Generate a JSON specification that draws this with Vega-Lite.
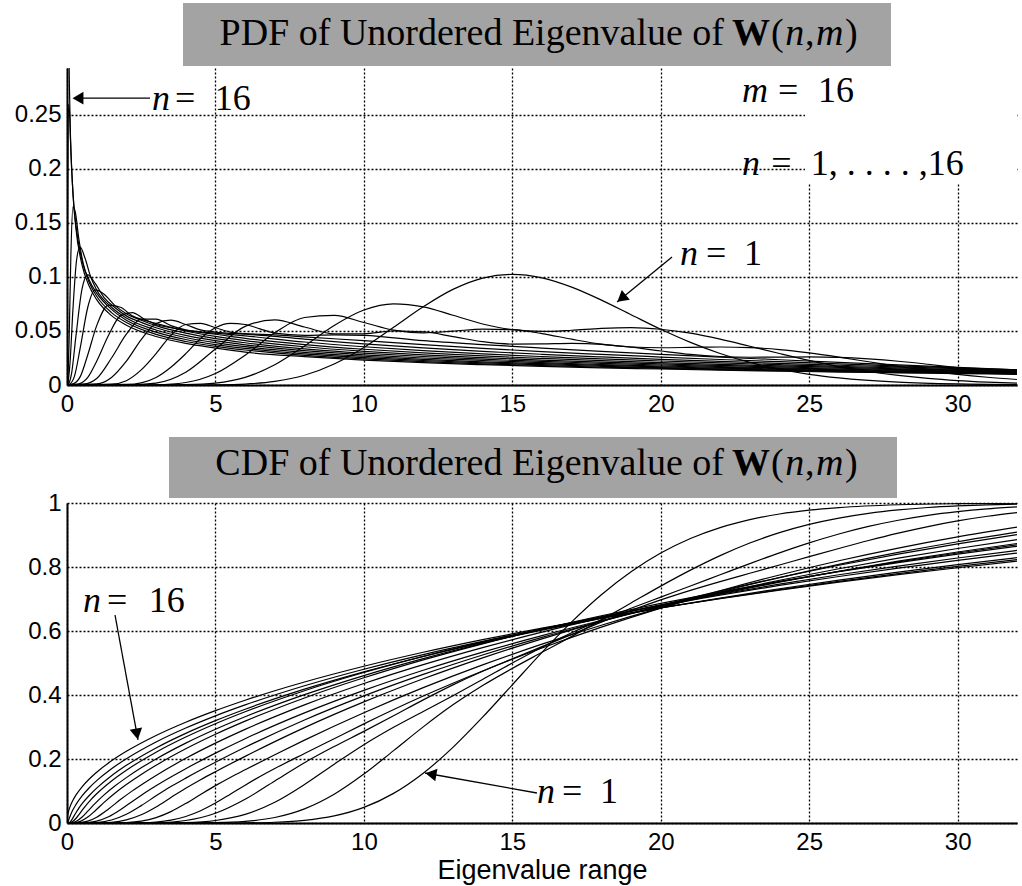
{
  "$schema": "https://vega.github.io/schema/vega-lite/v6.json",
  "background": "white",
  "autosize": {"type": "pad"},
  "padding": {"left": 14, "top": 3, "right": 4, "bottom": 8},
  "bounds": "flush",
  "spacing": 118,
  "config": {
    "view": {"stroke": null},
    "axis": {
      "domainColor": "black", "domainWidth": 2,
      "grid": true, "gridColor": "black", "gridDash": [2, 2], "gridWidth": 1.3, "gridOpacity": 1,
      "ticks": false, "labelFlush": false, "labelOverlap": false,
      "labelFont": "Liberation Sans", "labelFontSize": 24, "labelColor": "black",
      "titleFont": "Liberation Sans", "titleFontSize": 27, "titleFontWeight": "normal", "titleColor": "black"
    }
  },
  "datasets": {
    "curves": [
      {"n":1,"x":0,"p":0,"c":0},{"n":1,"x":4,"p":0.00002,"c":0.00001},{"n":1,"x":5,"p":0.0002,"c":0.00004},{"n":1,"x":6,"p":0.0009,"c":0.0005},{"n":1,"x":7,"p":0.0033,"c":0.0024},{"n":1,"x":8,"p":0.009,"c":0.0082},{"n":1,"x":9,"p":0.0194,"c":0.022},{"n":1,"x":10,"p":0.0347,"c":0.0487},{"n":1,"x":11,"p":0.0534,"c":0.0926},{"n":1,"x":12,"p":0.0724,"c":0.1556},{"n":1,"x":13,"p":0.0885,"c":0.2364},{"n":1,"x":14,"p":0.099,"c":0.3306},{"n":1,"x":15,"p":0.1024,"c":0.4319},{"n":1,"x":16,"p":0.0992,"c":0.5333},{"n":1,"x":17,"p":0.0906,"c":0.6285},{"n":1,"x":18,"p":0.0786,"c":0.7133},{"n":1,"x":19,"p":0.0651,"c":0.7852},{"n":1,"x":20,"p":0.0516,"c":0.8435},{"n":1,"x":21,"p":0.0395,"c":0.889},{"n":1,"x":22,"p":0.0292,"c":0.9232},{"n":1,"x":23,"p":0.0209,"c":0.9481},{"n":1,"x":24,"p":0.0146,"c":0.9657},{"n":1,"x":25,"p":0.0099,"c":0.9778},{"n":1,"x":26,"p":0.0066,"c":0.9858},{"n":1,"x":28,"p":0.0027,"c":0.9946},{"n":1,"x":30,"p":0.001,"c":0.998},{"n":1,"x":32,"p":0.0004,"c":0.9993},
      {"n":2,"x":0,"p":0,"c":0},{"n":2,"x":3,"p":0.00001,"c":0},{"n":2,"x":4,"p":0.0003,"c":0.0001},{"n":2,"x":5,"p":0.0018,"c":0.0009},{"n":2,"x":6,"p":0.0071,"c":0.005},{"n":2,"x":7,"p":0.0187,"c":0.0173},{"n":2,"x":8,"p":0.0361,"c":0.0443},{"n":2,"x":9,"p":0.0551,"c":0.0899},{"n":2,"x":10,"p":0.0694,"c":0.1528},{"n":2,"x":11,"p":0.0752,"c":0.2261},{"n":2,"x":12,"p":0.0724,"c":0.3004},{"n":2,"x":13,"p":0.0646,"c":0.3692},{"n":2,"x":14,"p":0.0565,"c":0.4296},{"n":2,"x":15,"p":0.0512,"c":0.4831},{"n":2,"x":16,"p":0.0496,"c":0.5333},{"n":2,"x":17,"p":0.0507,"c":0.5832},{"n":2,"x":18,"p":0.0524,"c":0.6347},{"n":2,"x":19,"p":0.0531,"c":0.6875},{"n":2,"x":20,"p":0.0516,"c":0.7403},{"n":2,"x":21,"p":0.048,"c":0.7902},{"n":2,"x":22,"p":0.0425,"c":0.8356},{"n":2,"x":23,"p":0.0359,"c":0.8749},{"n":2,"x":24,"p":0.0292,"c":0.9074},{"n":2,"x":25,"p":0.0228,"c":0.9333},{"n":2,"x":26,"p":0.0171,"c":0.953},{"n":2,"x":27,"p":0.0125,"c":0.9678},{"n":2,"x":28,"p":0.0089,"c":0.9784},{"n":2,"x":29,"p":0.0061,"c":0.9859},{"n":2,"x":30,"p":0.0041,"c":0.9908},{"n":2,"x":31,"p":0.0027,"c":0.9942},{"n":2,"x":32,"p":0.0017,"c":0.9963},
      {"n":3,"x":0,"p":0,"c":0},{"n":3,"x":2,"p":0,"c":0},{"n":3,"x":3,"p":0.0002,"c":0.0001},{"n":3,"x":4,"p":0.0023,"c":0.0013},{"n":3,"x":5,"p":0.0106,"c":0.0078},{"n":3,"x":6,"p":0.0276,"c":0.0269},{"n":3,"x":7,"p":0.0483,"c":0.0648},{"n":3,"x":8,"p":0.0625,"c":0.1203},{"n":3,"x":9,"p":0.0644,"c":0.1837},{"n":3,"x":10,"p":0.0579,"c":0.2448},{"n":3,"x":11,"p":0.0508,"c":0.2992},{"n":3,"x":12,"p":0.0483,"c":0.3487},{"n":3,"x":13,"p":0.0498,"c":0.3978},{"n":3,"x":14,"p":0.0518,"c":0.4486},{"n":3,"x":15,"p":0.0512,"c":0.5001},{"n":3,"x":16,"p":0.0476,"c":0.5495},{"n":3,"x":17,"p":0.0424,"c":0.5945},{"n":3,"x":18,"p":0.0378,"c":0.6346},{"n":3,"x":19,"p":0.0352,"c":0.6711},{"n":3,"x":20,"p":0.0345,"c":0.706},{"n":3,"x":21,"p":0.0348,"c":0.7406},{"n":3,"x":22,"p":0.0352,"c":0.7756},{"n":3,"x":23,"p":0.0346,"c":0.8105},{"n":3,"x":24,"p":0.0328,"c":0.8442},{"n":3,"x":25,"p":0.0297,"c":0.8754},{"n":3,"x":26,"p":0.0258,"c":0.9032},{"n":3,"x":27,"p":0.0215,"c":0.9268},{"n":3,"x":28,"p":0.0172,"c":0.9462},{"n":3,"x":29,"p":0.0133,"c":0.9615},{"n":3,"x":30,"p":0.0099,"c":0.973},{"n":3,"x":31,"p":0.0072,"c":0.9816},{"n":3,"x":32,"p":0.0051,"c":0.9878},
      {"n":4,"x":0,"p":0,"c":0},{"n":4,"x":2,"p":0.0001,"c":0},{"n":4,"x":3,"p":0.0018,"c":0.001},{"n":4,"x":4,"p":0.0118,"c":0.0078},{"n":4,"x":5,"p":0.0333,"c":0.0303},{"n":4,"x":6,"p":0.0543,"c":0.0741},{"n":4,"x":7,"p":0.0603,"c":0.1314},{"n":4,"x":8,"p":0.0537,"c":0.1885},{"n":4,"x":9,"p":0.0473,"c":0.239},{"n":4,"x":10,"p":0.0474,"c":0.2863},{"n":4,"x":11,"p":0.05,"c":0.335},{"n":4,"x":12,"p":0.0493,"c":0.3847},{"n":4,"x":13,"p":0.0448,"c":0.4317},{"n":4,"x":14,"p":0.0401,"c":0.4742},{"n":4,"x":15,"p":0.0379,"c":0.5131},{"n":4,"x":16,"p":0.0381,"c":0.5512},{"n":4,"x":17,"p":0.0386,"c":0.5895},{"n":4,"x":18,"p":0.0377,"c":0.6277},{"n":4,"x":19,"p":0.035,"c":0.664},{"n":4,"x":20,"p":0.0315,"c":0.6972},{"n":4,"x":21,"p":0.0283,"c":0.7271},{"n":4,"x":22,"p":0.0264,"c":0.7545},{"n":4,"x":23,"p":0.0257,"c":0.7805},{"n":4,"x":24,"p":0.0258,"c":0.8063},{"n":4,"x":25,"p":0.026,"c":0.8322},{"n":4,"x":26,"p":0.0255,"c":0.8579},{"n":4,"x":27,"p":0.0241,"c":0.8828},{"n":4,"x":28,"p":0.022,"c":0.9058},{"n":4,"x":29,"p":0.0192,"c":0.9264},{"n":4,"x":30,"p":0.0161,"c":0.9441},{"n":4,"x":31,"p":0.013,"c":0.9586},{"n":4,"x":32,"p":0.0101,"c":0.9702},
      {"n":5,"x":0,"p":0,"c":0},{"n":5,"x":2,"p":0.0005,"c":0.0002},{"n":5,"x":2.5,"p":0.002,"c":0.0008},{"n":5,"x":3,"p":0.007,"c":0.0031},{"n":5,"x":3.5,"p":0.0165,"c":0.009},{"n":5,"x":4,"p":0.029,"c":0.0204},{"n":5,"x":4.5,"p":0.043,"c":0.0384},{"n":5,"x":5,"p":0.053,"c":0.0624},{"n":5,"x":5.5,"p":0.057,"c":0.0899},{"n":5,"x":6,"p":0.056,"c":0.1182},{"n":5,"x":6.5,"p":0.052,"c":0.1452},{"n":5,"x":7,"p":0.048,"c":0.1702},{"n":5,"x":8,"p":0.046,"c":0.2172},{"n":5,"x":9,"p":0.0465,"c":0.2635},{"n":5,"x":10,"p":0.046,"c":0.3097},{"n":5,"x":12,"p":0.041,"c":0.3967},{"n":5,"x":14,"p":0.0374,"c":0.4751},{"n":5,"x":16,"p":0.0342,"c":0.5467},{"n":5,"x":18,"p":0.0312,"c":0.6121},{"n":5,"x":20,"p":0.0284,"c":0.6717},{"n":5,"x":22,"p":0.0258,"c":0.7259},{"n":5,"x":24,"p":0.0234,"c":0.7751},{"n":5,"x":26,"p":0.021,"c":0.8195},{"n":5,"x":28,"p":0.0187,"c":0.8592},{"n":5,"x":30,"p":0.0164,"c":0.8943},{"n":5,"x":32,"p":0.014,"c":0.9247},
      {"n":6,"x":0,"p":0,"c":0},{"n":6,"x":1.5,"p":0.0008,"c":0.0003},{"n":6,"x":2,"p":0.004,"c":0.0015},{"n":6,"x":2.5,"p":0.014,"c":0.006},{"n":6,"x":3,"p":0.029,"c":0.0168},{"n":6,"x":3.5,"p":0.046,"c":0.0355},{"n":6,"x":4,"p":0.056,"c":0.061},{"n":6,"x":4.5,"p":0.057,"c":0.0893},{"n":6,"x":5,"p":0.053,"c":0.1168},{"n":6,"x":5.5,"p":0.049,"c":0.1423},{"n":6,"x":6,"p":0.0475,"c":0.1664},{"n":6,"x":7,"p":0.0465,"c":0.2134},{"n":6,"x":8,"p":0.0445,"c":0.2589},{"n":6,"x":10,"p":0.0411,"c":0.3445},{"n":6,"x":12,"p":0.0373,"c":0.4229},{"n":6,"x":14,"p":0.0339,"c":0.4941},{"n":6,"x":16,"p":0.0309,"c":0.5589},{"n":6,"x":18,"p":0.0283,"c":0.6181},{"n":6,"x":20,"p":0.0259,"c":0.6723},{"n":6,"x":22,"p":0.0236,"c":0.7218},{"n":6,"x":24,"p":0.0216,"c":0.767},{"n":6,"x":26,"p":0.0196,"c":0.8082},{"n":6,"x":28,"p":0.0177,"c":0.8455},{"n":6,"x":30,"p":0.0158,"c":0.879},{"n":6,"x":32,"p":0.014,"c":0.9088},
      {"n":7,"x":0,"p":0,"c":0},{"n":7,"x":1,"p":0.001,"c":0.0003},{"n":7,"x":1.5,"p":0.007,"c":0.0023},{"n":7,"x":2,"p":0.022,"c":0.0096},{"n":7,"x":2.5,"p":0.042,"c":0.0256},{"n":7,"x":3,"p":0.057,"c":0.0503},{"n":7,"x":3.5,"p":0.06,"c":0.0796},{"n":7,"x":4,"p":0.056,"c":0.1086},{"n":7,"x":4.5,"p":0.051,"c":0.1353},{"n":7,"x":5,"p":0.049,"c":0.1603},{"n":7,"x":6,"p":0.047,"c":0.2083},{"n":7,"x":7,"p":0.045,"c":0.2543},{"n":7,"x":8,"p":0.0424,"c":0.298},{"n":7,"x":10,"p":0.038,"c":0.3784},{"n":7,"x":12,"p":0.0343,"c":0.4507},{"n":7,"x":14,"p":0.0311,"c":0.5161},{"n":7,"x":16,"p":0.0284,"c":0.5756},{"n":7,"x":18,"p":0.026,"c":0.63},{"n":7,"x":20,"p":0.0238,"c":0.6798},{"n":7,"x":22,"p":0.0218,"c":0.7254},{"n":7,"x":24,"p":0.02,"c":0.7672},{"n":7,"x":26,"p":0.0183,"c":0.8055},{"n":7,"x":28,"p":0.0167,"c":0.8405},{"n":7,"x":30,"p":0.0151,"c":0.8723},{"n":7,"x":32,"p":0.0136,"c":0.901},
      {"n":8,"x":0,"p":0,"c":0},{"n":8,"x":0.6,"p":0.001,"c":0.0001},{"n":8,"x":1,"p":0.006,"c":0.0015},{"n":8,"x":1.5,"p":0.025,"c":0.0093},{"n":8,"x":2,"p":0.047,"c":0.0273},{"n":8,"x":2.5,"p":0.061,"c":0.0543},{"n":8,"x":3,"p":0.061,"c":0.0848},{"n":8,"x":3.5,"p":0.055,"c":0.1138},{"n":8,"x":4,"p":0.051,"c":0.1403},{"n":8,"x":5,"p":0.048,"c":0.1898},{"n":8,"x":6,"p":0.0455,"c":0.2366},{"n":8,"x":8,"p":0.0398,"c":0.3219},{"n":8,"x":10,"p":0.0354,"c":0.3971},{"n":8,"x":12,"p":0.0318,"c":0.4643},{"n":8,"x":14,"p":0.0288,"c":0.5249},{"n":8,"x":16,"p":0.0263,"c":0.58},{"n":8,"x":18,"p":0.0241,"c":0.6304},{"n":8,"x":20,"p":0.0222,"c":0.6767},{"n":8,"x":22,"p":0.0204,"c":0.7193},{"n":8,"x":24,"p":0.0188,"c":0.7585},{"n":8,"x":26,"p":0.0172,"c":0.7945},{"n":8,"x":28,"p":0.0158,"c":0.8275},{"n":8,"x":30,"p":0.0145,"c":0.8578},{"n":8,"x":32,"p":0.0132,"c":0.8855},
      {"n":9,"x":0,"p":0,"c":0},{"n":9,"x":0.4,"p":0.001,"c":0.0001},{"n":9,"x":0.7,"p":0.007,"c":0.0013},{"n":9,"x":1,"p":0.022,"c":0.0057},{"n":9,"x":1.4,"p":0.046,"c":0.0193},{"n":9,"x":1.8,"p":0.064,"c":0.0413},{"n":9,"x":2.2,"p":0.067,"c":0.0675},{"n":9,"x":2.6,"p":0.061,"c":0.0931},{"n":9,"x":3,"p":0.056,"c":0.1165},{"n":9,"x":3.5,"p":0.053,"c":0.1438},{"n":9,"x":4,"p":0.0505,"c":0.1697},{"n":9,"x":5,"p":0.047,"c":0.2184},{"n":9,"x":6,"p":0.0432,"c":0.2635},{"n":9,"x":8,"p":0.0374,"c":0.3441},{"n":9,"x":10,"p":0.0331,"c":0.4146},{"n":9,"x":12,"p":0.0297,"c":0.4774},{"n":9,"x":14,"p":0.0269,"c":0.534},{"n":9,"x":16,"p":0.0246,"c":0.5855},{"n":9,"x":18,"p":0.0226,"c":0.6327},{"n":9,"x":20,"p":0.0208,"c":0.6761},{"n":9,"x":22,"p":0.0191,"c":0.716},{"n":9,"x":24,"p":0.0177,"c":0.7528},{"n":9,"x":26,"p":0.0163,"c":0.7868},{"n":9,"x":28,"p":0.015,"c":0.8181},{"n":9,"x":30,"p":0.0138,"c":0.8469},{"n":9,"x":32,"p":0.0127,"c":0.8734},
      {"n":10,"x":0,"p":0,"c":0},{"n":10,"x":0.2,"p":0.001,"c":0.0001},{"n":10,"x":0.45,"p":0.008,"c":0.0012},{"n":10,"x":0.7,"p":0.028,"c":0.0057},{"n":10,"x":1,"p":0.055,"c":0.0182},{"n":10,"x":1.4,"p":0.074,"c":0.044},{"n":10,"x":1.8,"p":0.072,"c":0.0732},{"n":10,"x":2.2,"p":0.064,"c":0.1004},{"n":10,"x":2.6,"p":0.06,"c":0.1252},{"n":10,"x":3,"p":0.057,"c":0.1486},{"n":10,"x":4,"p":0.05,"c":0.2021},{"n":10,"x":5,"p":0.045,"c":0.2496},{"n":10,"x":6,"p":0.0411,"c":0.2927},{"n":10,"x":8,"p":0.0354,"c":0.3692},{"n":10,"x":10,"p":0.0312,"c":0.4358},{"n":10,"x":12,"p":0.0279,"c":0.4949},{"n":10,"x":14,"p":0.0253,"c":0.5481},{"n":10,"x":16,"p":0.0231,"c":0.5965},{"n":10,"x":18,"p":0.0212,"c":0.6408},{"n":10,"x":20,"p":0.0196,"c":0.6816},{"n":10,"x":22,"p":0.0181,"c":0.7193},{"n":10,"x":24,"p":0.0167,"c":0.7541},{"n":10,"x":26,"p":0.0155,"c":0.7863},{"n":10,"x":28,"p":0.0143,"c":0.8161},{"n":10,"x":30,"p":0.0133,"c":0.8437},{"n":10,"x":32,"p":0.0122,"c":0.8692},
      {"n":11,"x":0,"p":0,"c":0},{"n":11,"x":0.1,"p":0.001,"c":0.0001},{"n":11,"x":0.25,"p":0.008,"c":0.0008},{"n":11,"x":0.45,"p":0.035,"c":0.0051},{"n":11,"x":0.7,"p":0.072,"c":0.0185},{"n":11,"x":0.95,"p":0.088,"c":0.0385},{"n":11,"x":1.25,"p":0.084,"c":0.0643},{"n":11,"x":1.6,"p":0.074,"c":0.092},{"n":11,"x":2,"p":0.066,"c":0.12},{"n":11,"x":2.5,"p":0.06,"c":0.1515},{"n":11,"x":3,"p":0.055,"c":0.1803},{"n":11,"x":4,"p":0.048,"c":0.2318},{"n":11,"x":5,"p":0.0429,"c":0.2772},{"n":11,"x":6,"p":0.0391,"c":0.3182},{"n":11,"x":8,"p":0.0335,"c":0.3908},{"n":11,"x":10,"p":0.0295,"c":0.4538},{"n":11,"x":12,"p":0.0264,"c":0.5097},{"n":11,"x":14,"p":0.0239,"c":0.56},{"n":11,"x":16,"p":0.0218,"c":0.6057},{"n":11,"x":18,"p":0.0201,"c":0.6476},{"n":11,"x":20,"p":0.0185,"c":0.6862},{"n":11,"x":22,"p":0.0171,"c":0.7218},{"n":11,"x":24,"p":0.0159,"c":0.7548},{"n":11,"x":26,"p":0.0147,"c":0.7854},{"n":11,"x":28,"p":0.0137,"c":0.8138},{"n":11,"x":30,"p":0.0127,"c":0.8402},{"n":11,"x":32,"p":0.0118,"c":0.8647},
      {"n":12,"x":0,"p":0,"c":0},{"n":12,"x":0.05,"p":0.001,"c":0},{"n":12,"x":0.15,"p":0.01,"c":0.0006},{"n":12,"x":0.3,"p":0.045,"c":0.0047},{"n":12,"x":0.5,"p":0.088,"c":0.018},{"n":12,"x":0.7,"p":0.102,"c":0.037},{"n":12,"x":0.95,"p":0.094,"c":0.0615},{"n":12,"x":1.25,"p":0.081,"c":0.0878},{"n":12,"x":1.6,"p":0.072,"c":0.1146},{"n":12,"x":2,"p":0.064,"c":0.1418},{"n":12,"x":2.5,"p":0.058,"c":0.1723},{"n":12,"x":3,"p":0.053,"c":0.2},{"n":12,"x":4,"p":0.0459,"c":0.2495},{"n":12,"x":5,"p":0.041,"c":0.2929},{"n":12,"x":6,"p":0.0372,"c":0.332},{"n":12,"x":8,"p":0.0318,"c":0.401},{"n":12,"x":10,"p":0.0279,"c":0.4607},{"n":12,"x":12,"p":0.025,"c":0.5136},{"n":12,"x":14,"p":0.0227,"c":0.5613},{"n":12,"x":16,"p":0.0207,"c":0.6047},{"n":12,"x":18,"p":0.019,"c":0.6444},{"n":12,"x":20,"p":0.0176,"c":0.681},{"n":12,"x":22,"p":0.0163,"c":0.7149},{"n":12,"x":24,"p":0.0152,"c":0.7464},{"n":12,"x":26,"p":0.0141,"c":0.7757},{"n":12,"x":28,"p":0.0131,"c":0.8029},{"n":12,"x":30,"p":0.0122,"c":0.8282},{"n":12,"x":32,"p":0.0114,"c":0.8518},
      {"n":13,"x":0,"p":0,"c":0},{"n":13,"x":0.03,"p":0.002,"c":0},{"n":13,"x":0.1,"p":0.02,"c":0.0008},{"n":13,"x":0.2,"p":0.07,"c":0.0053},{"n":13,"x":0.32,"p":0.115,"c":0.0164},{"n":13,"x":0.44,"p":0.128,"c":0.031},{"n":13,"x":0.6,"p":0.118,"c":0.0507},{"n":13,"x":0.8,"p":0.1,"c":0.0725},{"n":13,"x":1,"p":0.088,"c":0.0913},{"n":13,"x":1.5,"p":0.072,"c":0.1313},{"n":13,"x":2,"p":0.062,"c":0.1648},{"n":13,"x":3,"p":0.0509,"c":0.2213},{"n":13,"x":4,"p":0.044,"c":0.2687},{"n":13,"x":5,"p":0.0392,"c":0.3103},{"n":13,"x":6,"p":0.0355,"c":0.3477},{"n":13,"x":8,"p":0.0302,"c":0.4134},{"n":13,"x":10,"p":0.0266,"c":0.4702},{"n":13,"x":12,"p":0.0238,"c":0.5206},{"n":13,"x":14,"p":0.0215,"c":0.5659},{"n":13,"x":16,"p":0.0197,"c":0.6071},{"n":13,"x":18,"p":0.0181,"c":0.6449},{"n":13,"x":20,"p":0.0168,"c":0.6798},{"n":13,"x":22,"p":0.0156,"c":0.7122},{"n":13,"x":24,"p":0.0145,"c":0.7423},{"n":13,"x":26,"p":0.0135,"c":0.7703},{"n":13,"x":28,"p":0.0126,"c":0.7964},{"n":13,"x":30,"p":0.0118,"c":0.8208},{"n":13,"x":32,"p":0.011,"c":0.8436},
      {"n":14,"x":0,"p":0,"c":0},{"n":14,"x":0.02,"p":0.003,"c":0},{"n":14,"x":0.07,"p":0.04,"c":0.0011},{"n":14,"x":0.13,"p":0.12,"c":0.0059},{"n":14,"x":0.2,"p":0.165,"c":0.0159},{"n":14,"x":0.28,"p":0.16,"c":0.0289},{"n":14,"x":0.4,"p":0.135,"c":0.0466},{"n":14,"x":0.55,"p":0.112,"c":0.0651},{"n":14,"x":0.75,"p":0.097,"c":0.086},{"n":14,"x":1,"p":0.085,"c":0.1088},{"n":14,"x":1.5,"p":0.07,"c":0.1476},{"n":14,"x":2,"p":0.06,"c":0.1801},{"n":14,"x":3,"p":0.049,"c":0.2346},{"n":14,"x":4,"p":0.0421,"c":0.2802},{"n":14,"x":5,"p":0.0374,"c":0.3199},{"n":14,"x":6,"p":0.0339,"c":0.3556},{"n":14,"x":8,"p":0.0288,"c":0.4183},{"n":14,"x":10,"p":0.0253,"c":0.4724},{"n":14,"x":12,"p":0.0227,"c":0.5204},{"n":14,"x":14,"p":0.0205,"c":0.5636},{"n":14,"x":16,"p":0.0188,"c":0.6029},{"n":14,"x":18,"p":0.0173,"c":0.639},{"n":14,"x":20,"p":0.016,"c":0.6723},{"n":14,"x":22,"p":0.0149,"c":0.7032},{"n":14,"x":24,"p":0.0139,"c":0.732},{"n":14,"x":26,"p":0.013,"c":0.7589},{"n":14,"x":28,"p":0.0121,"c":0.784},{"n":14,"x":30,"p":0.0113,"c":0.8074},{"n":14,"x":32,"p":0.0106,"c":0.8293},
      {"n":15,"x":0,"p":0,"c":0},{"n":15,"x":0.02,"p":0.15,"c":0.0015},{"n":15,"x":0.05,"p":0.26,"c":0.0077},{"n":15,"x":0.08,"p":0.255,"c":0.0154},{"n":15,"x":0.12,"p":0.225,"c":0.025},{"n":15,"x":0.2,"p":0.178,"c":0.0411},{"n":15,"x":0.3,"p":0.148,"c":0.0574},{"n":15,"x":0.5,"p":0.116,"c":0.0838},{"n":15,"x":0.75,"p":0.0949,"c":0.1102},{"n":15,"x":1,"p":0.0822,"c":0.1323},{"n":15,"x":1.5,"p":0.067,"c":0.1696},{"n":15,"x":2,"p":0.0579,"c":0.2008},{"n":15,"x":3,"p":0.0469,"c":0.2532},{"n":15,"x":4,"p":0.0403,"c":0.2968},{"n":15,"x":5,"p":0.0358,"c":0.3349},{"n":15,"x":6,"p":0.0324,"c":0.369},{"n":15,"x":8,"p":0.0275,"c":0.4289},{"n":15,"x":10,"p":0.0242,"c":0.4806},{"n":15,"x":12,"p":0.0216,"c":0.5264},{"n":15,"x":14,"p":0.0196,"c":0.5676},{"n":15,"x":16,"p":0.018,"c":0.6052},{"n":15,"x":18,"p":0.0166,"c":0.6398},{"n":15,"x":20,"p":0.0154,"c":0.6718},{"n":15,"x":22,"p":0.0143,"c":0.7015},{"n":15,"x":24,"p":0.0133,"c":0.7291},{"n":15,"x":26,"p":0.0125,"c":0.7549},{"n":15,"x":28,"p":0.0117,"c":0.7791},{"n":15,"x":30,"p":0.011,"c":0.8018},{"n":15,"x":32,"p":0.0103,"c":0.8231},
      {"n":16,"x":0,"p":1,"c":0},{"n":16,"x":0.02,"p":0.56,"c":0.0225},{"n":16,"x":0.05,"p":0.356,"c":0.0356},{"n":16,"x":0.1,"p":0.251,"c":0.0503},{"n":16,"x":0.2,"p":0.178,"c":0.0711},{"n":16,"x":0.3,"p":0.145,"c":0.0871},{"n":16,"x":0.5,"p":0.112,"c":0.1124},{"n":16,"x":0.75,"p":0.0914,"c":0.1376},{"n":16,"x":1,"p":0.079,"c":0.1587},{"n":16,"x":1.5,"p":0.0642,"c":0.1942},{"n":16,"x":2,"p":0.0554,"c":0.2239},{"n":16,"x":3,"p":0.0449,"c":0.2735},{"n":16,"x":4,"p":0.0385,"c":0.315},{"n":16,"x":5,"p":0.0342,"c":0.3512},{"n":16,"x":6,"p":0.0304,"c":0.3837},{"n":16,"x":8,"p":0.0263,"c":0.4406},{"n":16,"x":10,"p":0.0231,"c":0.4898},{"n":16,"x":12,"p":0.0207,"c":0.5335},{"n":16,"x":14,"p":0.0188,"c":0.573},{"n":16,"x":16,"p":0.0172,"c":0.609},{"n":16,"x":18,"p":0.0159,"c":0.642},{"n":16,"x":20,"p":0.0148,"c":0.6727},{"n":16,"x":22,"p":0.0137,"c":0.7012},{"n":16,"x":24,"p":0.0128,"c":0.7278},{"n":16,"x":26,"p":0.012,"c":0.7527},{"n":16,"x":28,"p":0.0113,"c":0.7759},{"n":16,"x":30,"p":0.0106,"c":0.7977},{"n":16,"x":32,"p":0.0099,"c":0.8183}
    ]
  },
  "vconcat": [
    {
      "width": 950,
      "height": 317,
      "layer": [
        {
          "data": {"name": "curves"},
          "mark": {"type": "line", "color": "black", "strokeWidth": 1.2, "interpolate": "monotone", "clip": true},
          "encoding": {
            "x": {"field": "x", "type": "quantitative", "scale": {"domain": [0, 32], "nice": false},
                  "axis": {"title": null, "values": [0, 5, 10, 15, 20, 25, 30], "labelPadding": 7}},
            "y": {"field": "p", "type": "quantitative", "scale": {"domain": [0, 0.2935], "nice": false},
                  "axis": {"title": null, "values": [0, 0.05, 0.1, 0.15, 0.2, 0.25], "format": "~g", "labelPadding": 6}},
            "detail": {"field": "n", "type": "nominal"}
          }
        },
        {
          "data": {"values": [{"x": 3.907, "x2": 27.755, "y": 0.2954, "y2": 0.3536}]},
          "mark": {"type": "rect", "fill": "#a3a3a3"},
          "encoding": {
            "x": {"field": "x", "type": "quantitative"},
            "x2": {"field": "x2"},
            "y": {"field": "y", "type": "quantitative"},
            "y2": {"field": "y2"}
          }
        },
        {
          "data": {"values": [{"x": 24.86, "x2": 32, "y": 0.186, "y2": 0.2935}]},
          "mark": {"type": "rect", "fill": "white"},
          "encoding": {
            "x": {"field": "x", "type": "quantitative"},
            "x2": {"field": "x2"},
            "y": {"field": "y", "type": "quantitative"},
            "y2": {"field": "y2"}
          }
        },
        {
          "data": {"values": [{"x": 22.13, "y": 0.3148, "t": "PDF of Unordered Eigenvalue of"}]},
          "mark": {"type": "text", "font": "Liberation Serif", "fontSize": 38, "align": "right", "baseline": "alphabetic", "color": "black"},
          "encoding": {
            "x": {"field": "x", "type": "quantitative"},
            "y": {"field": "y", "type": "quantitative"},
            "text": {"field": "t"}
          }
        },
        {
          "data": {"values": [{"x": 22.4, "y": 0.3148, "t": "W"}]},
          "mark": {"type": "text", "font": "Liberation Serif", "fontSize": 38, "fontWeight": "bold", "align": "left", "baseline": "alphabetic", "color": "black"},
          "encoding": {
            "x": {"field": "x", "type": "quantitative"},
            "y": {"field": "y", "type": "quantitative"},
            "text": {"field": "t"}
          }
        },
        {
          "data": {"values": [{"x": 23.71, "y": 0.3148, "t": "("}, {"x": 24.86, "y": 0.3148, "t": ","}, {"x": 26.21, "y": 0.3148, "t": ")"}]},
          "mark": {"type": "text", "font": "Liberation Serif", "fontSize": 38, "align": "left", "baseline": "alphabetic", "color": "black"},
          "encoding": {
            "x": {"field": "x", "type": "quantitative"},
            "y": {"field": "y", "type": "quantitative"},
            "text": {"field": "t"}
          }
        },
        {
          "data": {"values": [{"x": 24.19, "y": 0.3148, "t": "n"}, {"x": 25.23, "y": 0.3148, "t": "m"}]},
          "mark": {"type": "text", "font": "Liberation Serif", "fontSize": 38, "fontStyle": "italic", "align": "left", "baseline": "alphabetic", "color": "black"},
          "encoding": {
            "x": {"field": "x", "type": "quantitative"},
            "y": {"field": "y", "type": "quantitative"},
            "text": {"field": "t"}
          }
        },
        {
          "data": {"values": [
            {"x": 2.863, "y": 0.2545, "t": "n"},
            {"x": 22.737, "y": 0.262, "t": "m"},
            {"x": 22.737, "y": 0.1944, "t": "n"},
            {"x": 20.648, "y": 0.1111, "t": "n"}
          ]},
          "mark": {"type": "text", "font": "Liberation Serif", "fontSize": 36, "fontStyle": "italic", "align": "left", "baseline": "alphabetic", "color": "black"},
          "encoding": {
            "x": {"field": "x", "type": "quantitative"},
            "y": {"field": "y", "type": "quantitative"},
            "text": {"field": "t"}
          }
        },
        {
          "data": {"values": [
            {"x": 3.64, "y": 0.2545, "t": "="}, {"x": 4.98, "y": 0.2545, "t": "16"},
            {"x": 23.95, "y": 0.262, "t": "="}, {"x": 25.3, "y": 0.262, "t": "16"},
            {"x": 23.72, "y": 0.1944, "t": "="}, {"x": 25.05, "y": 0.1944, "t": "1, . . . . ,16"},
            {"x": 21.52, "y": 0.1111, "t": "="}, {"x": 22.8, "y": 0.1111, "t": "1"}
          ]},
          "mark": {"type": "text", "font": "Liberation Serif", "fontSize": 36, "align": "left", "baseline": "alphabetic", "color": "black"},
          "encoding": {
            "x": {"field": "x", "type": "quantitative"},
            "y": {"field": "y", "type": "quantitative"},
            "text": {"field": "t"}
          }
        },
        {
          "data": {"values": [
            {"x": 2.796, "y": 0.2656, "x2": 0.303, "y2": 0.2656},
            {"x": 20.38, "y": 0.1185, "x2": 18.53, "y2": 0.0768}
          ]},
          "mark": {"type": "rule", "color": "black", "strokeWidth": 1.3},
          "encoding": {
            "x": {"field": "x", "type": "quantitative"},
            "y": {"field": "y", "type": "quantitative"},
            "x2": {"field": "x2"},
            "y2": {"field": "y2"}
          }
        },
        {
          "data": {"values": [{"x": 0.37, "y": 0.2656}]},
          "mark": {"type": "point", "shape": "triangle-up", "angle": 270, "filled": true, "color": "black", "opacity": 1, "size": 160},
          "encoding": {
            "x": {"field": "x", "type": "quantitative"},
            "y": {"field": "y", "type": "quantitative"}
          }
        },
        {
          "data": {"values": [{"x": 18.68, "y": 0.0803}]},
          "mark": {"type": "point", "shape": "triangle-up", "angle": 230.7, "filled": true, "color": "black", "opacity": 1, "size": 160},
          "encoding": {
            "x": {"field": "x", "type": "quantitative"},
            "y": {"field": "y", "type": "quantitative"}
          }
        }
      ]
    },
    {
      "width": 950,
      "height": 320,
      "layer": [
        {
          "data": {"name": "curves"},
          "mark": {"type": "line", "color": "black", "strokeWidth": 1.2, "interpolate": "monotone", "clip": true},
          "encoding": {
            "x": {"field": "x", "type": "quantitative", "scale": {"domain": [0, 32], "nice": false},
                  "axis": {"title": "Eigenvalue range", "values": [0, 5, 10, 15, 20, 25, 30], "labelPadding": 7, "titlePadding": 3}},
            "y": {"field": "c", "type": "quantitative", "scale": {"domain": [0, 1], "nice": false},
                  "axis": {"title": null, "values": [0, 0.2, 0.4, 0.6, 0.8, 1], "format": "~g", "labelPadding": 6}},
            "detail": {"field": "n", "type": "nominal"}
          }
        },
        {
          "data": {"values": [{"x": 3.436, "x2": 27.958, "y": 1.0156, "y2": 1.206}]},
          "mark": {"type": "rect", "fill": "#a3a3a3"},
          "encoding": {
            "x": {"field": "x", "type": "quantitative"},
            "x2": {"field": "x2"},
            "y": {"field": "y", "type": "quantitative"},
            "y2": {"field": "y2"}
          }
        },
        {
          "data": {"values": [{"x": 22.13, "y": 1.0875, "t": "CDF of Unordered Eigenvalue of"}]},
          "mark": {"type": "text", "font": "Liberation Serif", "fontSize": 38, "align": "right", "baseline": "alphabetic", "color": "black"},
          "encoding": {
            "x": {"field": "x", "type": "quantitative"},
            "y": {"field": "y", "type": "quantitative"},
            "text": {"field": "t"}
          }
        },
        {
          "data": {"values": [{"x": 22.4, "y": 1.0875, "t": "W"}]},
          "mark": {"type": "text", "font": "Liberation Serif", "fontSize": 38, "fontWeight": "bold", "align": "left", "baseline": "alphabetic", "color": "black"},
          "encoding": {
            "x": {"field": "x", "type": "quantitative"},
            "y": {"field": "y", "type": "quantitative"},
            "text": {"field": "t"}
          }
        },
        {
          "data": {"values": [{"x": 23.71, "y": 1.0875, "t": "("}, {"x": 24.86, "y": 1.0875, "t": ","}, {"x": 26.21, "y": 1.0875, "t": ")"}]},
          "mark": {"type": "text", "font": "Liberation Serif", "fontSize": 38, "align": "left", "baseline": "alphabetic", "color": "black"},
          "encoding": {
            "x": {"field": "x", "type": "quantitative"},
            "y": {"field": "y", "type": "quantitative"},
            "text": {"field": "t"}
          }
        },
        {
          "data": {"values": [{"x": 24.19, "y": 1.0875, "t": "n"}, {"x": 25.23, "y": 1.0875, "t": "m"}]},
          "mark": {"type": "text", "font": "Liberation Serif", "fontSize": 38, "fontStyle": "italic", "align": "left", "baseline": "alphabetic", "color": "black"},
          "encoding": {
            "x": {"field": "x", "type": "quantitative"},
            "y": {"field": "y", "type": "quantitative"},
            "text": {"field": "t"}
          }
        },
        {
          "data": {"values": [{"x": 0.539, "y": 0.6594, "t": "n"}, {"x": 15.83, "y": 0.0625, "t": "n"}]},
          "mark": {"type": "text", "font": "Liberation Serif", "fontSize": 36, "fontStyle": "italic", "align": "left", "baseline": "alphabetic", "color": "black"},
          "encoding": {
            "x": {"field": "x", "type": "quantitative"},
            "y": {"field": "y", "type": "quantitative"},
            "text": {"field": "t"}
          }
        },
        {
          "data": {"values": [
            {"x": 1.35, "y": 0.6594, "t": "="}, {"x": 2.75, "y": 0.6594, "t": "16"},
            {"x": 16.67, "y": 0.0625, "t": "="}, {"x": 17.95, "y": 0.0625, "t": "1"}
          ]},
          "mark": {"type": "text", "font": "Liberation Serif", "fontSize": 36, "align": "left", "baseline": "alphabetic", "color": "black"},
          "encoding": {
            "x": {"field": "x", "type": "quantitative"},
            "y": {"field": "y", "type": "quantitative"},
            "text": {"field": "t"}
          }
        },
        {
          "data": {"values": [
            {"x": 1.617, "y": 0.65, "x2": 2.392, "y2": 0.2594},
            {"x": 15.83, "y": 0.09375, "x2": 12.06, "y2": 0.15625}
          ]},
          "mark": {"type": "rule", "color": "black", "strokeWidth": 1.3},
          "encoding": {
            "x": {"field": "x", "type": "quantitative"},
            "y": {"field": "y", "type": "quantitative"},
            "x2": {"field": "x2"},
            "y2": {"field": "y2"}
          }
        },
        {
          "data": {"values": [{"x": 2.354, "y": 0.2778}]},
          "mark": {"type": "point", "shape": "triangle-up", "angle": 169.6, "filled": true, "color": "black", "opacity": 1, "size": 160},
          "encoding": {
            "x": {"field": "x", "type": "quantitative"},
            "y": {"field": "y", "type": "quantitative"}
          }
        },
        {
          "data": {"values": [{"x": 12.26, "y": 0.1528}]},
          "mark": {"type": "point", "shape": "triangle-up", "angle": 280.1, "filled": true, "color": "black", "opacity": 1, "size": 160},
          "encoding": {
            "x": {"field": "x", "type": "quantitative"},
            "y": {"field": "y", "type": "quantitative"}
          }
        }
      ]
    }
  ]
}
